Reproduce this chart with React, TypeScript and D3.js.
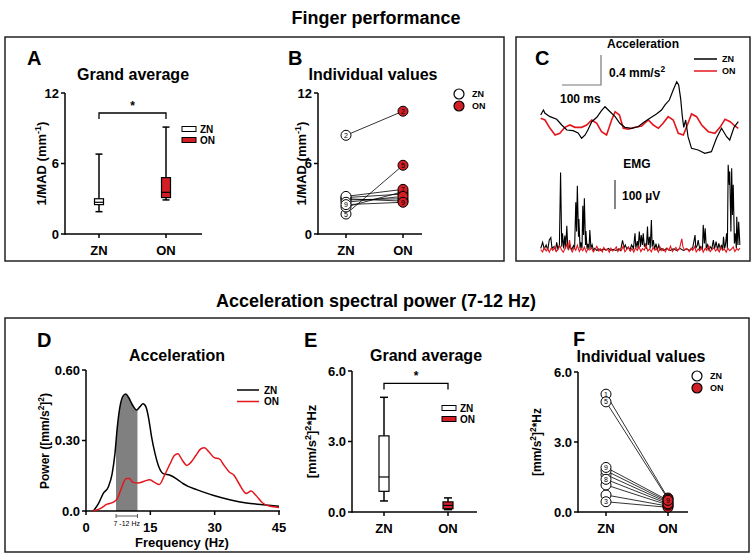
import * as d3 from "d3";

const FONT = "'Liberation Sans', Arial, sans-serif";
const RED_LINE = "#e3161d";
const RED_FILL = "#d21f26";

const groups = ["ZN", "ON"];
const subjects = ["1", "2", "3", "4", "5", "6", "7", "8", "9"];

// A: 1/MAD box stats [min, q1, median, q3, max]
const madBoxZN = [1.9, 2.5, 2.7, 3.0, 6.8];
const madBoxON = [2.9, 3.1, 3.55, 4.8, 9.1];
const madTicks = [0, 6, 12];

// B: individual 1/MAD
const madZN = [3.1, 8.4, 2.9, 3.0, 1.7, 2.3, 3.2, 2.7, 2.5];
const madON = [3.4, 10.45, 3.0, 2.8, 5.85, 3.6, 3.8, 3.2, 2.7];

// E: spectral power box stats
const powBoxZN = [0.47, 0.88, 1.49, 3.24, 4.88];
const powBoxON = [0.1, 0.14, 0.28, 0.43, 0.6];
const powTicks = [0, 3, 6];

// F: individual spectral power
const powZN = [5.05, 0.73, 0.44, 1.6, 4.72, 1.16, 1.77, 1.4, 1.91];
const powON = [0.6, 0.25, 0.2, 0.4, 0.55, 0.3, 0.45, 0.35, 0.5];

// D: spectra [Hz, power]
const specZN: [number, number][] = [
  [1.7, 0], [2.9, 0.031], [4.0, 0.074], [5.2, 0.102], [6.1, 0.159], [6.75, 0.244],
  [7.3, 0.357], [7.9, 0.442], [8.7, 0.491], [9.3, 0.498], [9.9, 0.484], [10.9, 0.449],
  [11.8, 0.43], [12.6, 0.444], [13.3, 0.456], [14.0, 0.442], [14.7, 0.385], [15.3, 0.314],
  [16.1, 0.244], [17.0, 0.187], [18.0, 0.159], [19.6, 0.152], [21.1, 0.137], [22.7, 0.116],
  [23.8, 0.105], [25.8, 0.091], [29.6, 0.067], [33.5, 0.048], [37.4, 0.034], [41.3, 0.027],
  [45, 0.02],
];
const specON: [number, number][] = [
  [1.7, 0], [3.3, 0.01], [4.8, 0.028], [6.4, 0.038], [7.3, 0.053], [8.2, 0.095],
  [9.4, 0.138], [10.1, 0.138], [10.9, 0.123], [12.1, 0.119], [13.6, 0.127], [14.8, 0.133],
  [15.9, 0.123], [17.1, 0.113], [18.3, 0.152], [19.6, 0.201], [20.6, 0.236], [21.4, 0.244],
  [22.5, 0.215], [23.5, 0.194], [24.5, 0.208], [25.6, 0.236], [26.8, 0.265], [27.6, 0.269],
  [28.7, 0.251], [29.9, 0.227], [31.1, 0.222], [32.2, 0.194], [33.4, 0.166], [34.5, 0.152],
  [35.7, 0.116], [36.9, 0.081], [37.3, 0.074], [38.5, 0.085], [39.6, 0.067], [41.2, 0.034],
  [42.7, 0.021], [45, 0.015],
];
const freqTicks = [0, 15, 30, 45];
const specTicks = [0, 0.3, 0.6];
const band = [7, 12];

// C: acceleration traces [ms, mm/s^2]
const accZN: [number, number][] = [
  [0, 0.133], [7, 0.2], [11, 0.156], [24, 0.111], [41, 0.076], [54, 0], [67, -0.067],
  [83, -0.076], [96, -0.107], [105, -0.177], [114, -0.133], [121, -0.067], [131, 0.044],
  [144, 0.103], [156, 0.191], [165, 0.244], [178, 0.177], [191, 0.111], [203, 0.023],
  [216, -0.031], [233, -0.044], [250, -0.023], [263, 0.031], [280, 0.089], [297, 0.147],
  [310, 0.2], [319, 0.267], [330, 0.333], [340, 0.467], [349, 0.577], [354, 0.533],
  [359, 0.356], [363, 0.133], [367, -0.031], [372, 0.067], [378, -0.156], [387, -0.311],
  [404, -0.333], [421, -0.377], [438, -0.356], [451, -0.177], [464, -0.044], [477, -0.156],
  [485, -0.2], [496, -0.031], [507, 0.044],
];
const accON: [number, number][] = [
  [0, 0.089], [11, 0.067], [24, -0.044], [37, -0.133], [49, -0.111], [62, -0.031], [75, 0],
  [88, -0.031], [105, -0.031], [118, 0], [131, 0.067], [144, 0.023], [156, -0.089],
  [169, -0.133], [182, 0.067], [191, 0.177], [202, 0.133], [212, -0.044], [225, -0.057],
  [242, -0.031], [259, -0.013], [276, 0.067], [289, 0], [302, -0.044], [314, 0.023],
  [327, 0.111], [340, 0.067], [353, -0.111], [366, -0.133], [378, 0.023], [387, 0.147],
  [400, 0.111], [413, 0], [430, -0.089], [447, -0.111], [460, -0.031], [473, 0.076],
  [486, 0.044], [498, -0.013], [507, -0.044],
];
// C: EMG [ms, µV]
const emgZN: [number, number][] = [
  [0, 9], [5, 30], [9, 7], [14, 21], [18, 3], [22, 38], [26, 46], [29, 9], [34, 15], [38, 3],
  [41, 30], [44, 7], [48, 21], [51, 271], [54, 15], [56, 61], [59, 9], [62, 53], [64, 9],
  [67, 87], [69, 23], [72, 7], [75, 21], [79, 3], [84, 18], [87, 7], [90, 168], [92, 67],
  [94, 225], [97, 49], [98, 110], [101, 9], [103, 30], [106, 9], [108, 156], [110, 55],
  [112, 182], [115, 21], [116, 69], [119, 7], [121, 25], [124, 7], [126, 72], [129, 9],
  [132, 21], [135, 3], [139, 9], [144, 2], [149, 7], [154, 2], [161, 7], [168, 3], [174, 9],
  [179, 2], [186, 6], [193, 2], [200, 7], [205, 2], [210, 37], [214, 11], [217, 21], [221, 7],
  [225, 14], [229, 3], [233, 21], [238, 9], [242, 61], [244, 11], [248, 34], [250, 9],
  [253, 67], [256, 15], [258, 55], [261, 21], [263, 61], [266, 15], [268, 23], [271, 7],
  [274, 84], [276, 21], [279, 49], [281, 9], [284, 107], [286, 15], [289, 38], [292, 7],
  [296, 25], [299, 3], [303, 21], [306, 3], [311, 9], [316, 2], [323, 9], [332, 2], [340, 7],
  [349, 2], [357, 9], [366, 2], [374, 7], [383, 2], [390, 11], [393, 32], [396, 55], [398, 9],
  [402, 21], [404, 38], [408, 7], [411, 15], [415, 3], [417, 90], [420, 26], [422, 78],
  [425, 9], [428, 21], [432, 3], [435, 15], [439, 7], [443, 38], [446, 7], [450, 32], [454, 3],
  [457, 26], [461, 7], [464, 21], [467, 3], [469, 49], [472, 9], [474, 21], [477, 61], [479, 9],
  [481, 297], [484, 228], [485, 274], [488, 67], [490, 285], [492, 124], [494, 228], [497, 26],
  [499, 61], [502, 9], [503, 118], [506, 21], [508, 101], [510, 49], [511, 21],
];
const emgON: [number, number][] = [
  [0, 5], [5, -3], [9, 12], [14, 0], [18, 8], [22, -4], [27, 10], [31, 2], [36, 15], [40, -2],
  [45, 6], [49, 18], [54, 3], [58, -4], [63, 10], [67, 24], [70, 5], [74, 38], [77, 8],
  [81, -3], [86, 12], [90, 2], [94, 20], [99, -2], [103, 9], [108, 1], [112, 14], [117, -4],
  [121, 7], [126, 3], [130, 11], [135, -3], [140, 6], [144, 16], [149, 0], [153, 8], [158, -3],
  [162, 12], [167, 2], [171, 7], [176, -4], [180, 10], [185, 0], [189, 5], [194, 14], [198, -2],
  [203, 8], [207, 2], [212, 18], [216, -3], [221, 6], [225, 13], [230, 0], [234, 9], [239, -4],
  [243, 11], [248, 2], [252, 16], [257, -2], [261, 8], [266, 3], [270, 20], [275, 0], [279, 7],
  [284, -3], [288, 12], [293, 2], [297, 9], [302, -4], [306, 14], [311, 1], [315, 7], [320, -3],
  [324, 10], [329, 2], [333, 17], [338, -2], [342, 6], [347, 12], [351, 0], [356, 8], [362, 42],
  [365, 14], [369, 3], [374, 9], [377, 6], [381, -2], [386, 10], [390, 2], [395, 15], [399, -3],
  [404, 7], [408, 1], [413, 12], [417, -4], [422, 9], [426, 2], [431, 18], [435, -2], [440, 6],
  [444, 11], [449, 0], [453, 8], [458, -3], [462, 13], [467, 2], [471, 7], [476, -4], [480, 10],
  [485, 1], [489, 6], [494, 14], [498, -2], [503, 8], [507, 3], [511, 10],
];

function Sup({ t }: { t: string }) {
  return <tspan baselineShift="super" fontSize="0.7em">{t}</tspan>;
}

function YAxis({ x, scale, ticks, fmt }: { x: number; scale: d3.ScaleLinear<number, number>; ticks: number[]; fmt: (v: number) => string }) {
  const [r0, r1] = scale.range();
  return (
    <g>
      <line x1={x} x2={x} y1={r0 + 0.75} y2={r1} stroke="#000" strokeWidth={1.5} />
      {ticks.map((t) => (
        <g key={t}>
          <line x1={x - 4} x2={x} y1={scale(t)} y2={scale(t)} stroke="#000" strokeWidth={1.5} />
          <text x={x - 6} y={scale(t)} dy="0.36em" textAnchor="end" fontSize={13} fontWeight="bold">{fmt(t)}</text>
        </g>
      ))}
    </g>
  );
}

interface BoxProps {
  x0: number; xEnd: number; yTop: number; yBottom: number; max: number; ticks: number[];
  fmt: (v: number) => string; pos: number[]; boxes: number[][]; bracket: number; boxW: number;
  legend: [number, number]; labelX: number; label: React.ReactNode;
}

function BoxPanel(p: BoxProps) {
  const y = d3.scaleLinear().domain([0, p.max]).range([p.yBottom, p.yTop]);
  const fills = ["#fff", RED_FILL];
  const yb = y(p.bracket);
  return (
    <g>
      <YAxis x={p.x0} scale={y} ticks={p.ticks} fmt={p.fmt} />
      <line x1={p.x0} x2={p.xEnd} y1={p.yBottom} y2={p.yBottom} stroke="#000" strokeWidth={1.5} />
      {groups.map((g, i) => (
        <g key={g}>
          <line x1={p.pos[i]} x2={p.pos[i]} y1={p.yBottom} y2={p.yBottom + 4} stroke="#000" strokeWidth={1.5} />
          <text x={p.pos[i]} y={p.yBottom + 21} textAnchor="middle" fontSize={13} fontWeight="bold">{g}</text>
        </g>
      ))}
      {p.boxes.map((b, i) => {
        const cx = p.pos[i];
        const w = p.boxW;
        return (
          <g key={i} stroke="#000" strokeWidth={1.2}>
            <line x1={cx} x2={cx} y1={y(b[4])} y2={y(b[3])} strokeWidth={1.5} />
            <line x1={cx} x2={cx} y1={y(b[1])} y2={y(b[0])} strokeWidth={1.5} />
            <line x1={cx - w / 2 + 1} x2={cx + w / 2 - 1} y1={y(b[4])} y2={y(b[4])} strokeWidth={1.5} />
            <line x1={cx - w / 2 + 1} x2={cx + w / 2 - 1} y1={y(b[0])} y2={y(b[0])} strokeWidth={1.5} />
            <rect x={cx - w / 2} y={y(b[3])} width={w} height={y(b[1]) - y(b[3])} fill={fills[i]} />
            <line x1={cx - w / 2} x2={cx + w / 2} y1={y(b[2])} y2={y(b[2])} />
          </g>
        );
      })}
      <path d={`M${p.pos[0]},${yb + 6}V${yb}H${p.pos[1]}V${yb + 6}`} fill="none" stroke="#000" strokeWidth={1.3} />
      <text x={(p.pos[0] + p.pos[1]) / 2} y={yb - 3} textAnchor="middle" fontSize={12} fontWeight="bold">*</text>
      {groups.map((g, i) => (
        <g key={g}>
          <rect x={p.legend[0]} y={p.legend[1] + i * 11 - 2.5} width={14} height={5} fill={fills[i]} stroke="#000" strokeWidth={1} />
          <text x={p.legend[0] + 18} y={p.legend[1] + i * 11} dy="0.36em" fontSize={10} fontWeight="bold">{g}</text>
        </g>
      ))}
      <text transform={`translate(${p.labelX},${(p.yTop + p.yBottom) / 2}) rotate(-90)`} textAnchor="middle" fontSize={13} fontWeight="bold">{p.label}</text>
    </g>
  );
}

interface IndProps {
  x0: number; xEnd: number; yTop: number; yBottom: number; max: number; ticks: number[];
  fmt: (v: number) => string; pos: number[]; zn: number[]; on: number[];
  legend: [number, number]; labelX: number; label: React.ReactNode; labelSize: number;
}

function IndividualPanel(p: IndProps) {
  const y = d3.scaleLinear().domain([0, p.max]).range([p.yBottom, p.yTop]);
  const r = 5;
  // a number is hidden when a circle drawn later sits on top of it
  const covered = (vals: number[], i: number) =>
    vals.some((v, j) => j > i && Math.abs(y(v) - y(vals[i])) < r + 2);
  return (
    <g>
      <YAxis x={p.x0} scale={y} ticks={p.ticks} fmt={p.fmt} />
      <line x1={p.x0} x2={p.xEnd} y1={p.yBottom} y2={p.yBottom} stroke="#000" strokeWidth={1.5} />
      {groups.map((g, i) => (
        <g key={g}>
          <line x1={p.pos[i]} x2={p.pos[i]} y1={p.yBottom} y2={p.yBottom + 4} stroke="#000" strokeWidth={1.5} />
          <text x={p.pos[i]} y={p.yBottom + 21} textAnchor="middle" fontSize={13} fontWeight="bold">{g}</text>
        </g>
      ))}
      {subjects.map((s, i) => (
        <line key={s} x1={p.pos[0]} x2={p.pos[1]} y1={y(p.zn[i])} y2={y(p.on[i])} stroke="#000" strokeWidth={0.8} />
      ))}
      {[p.zn, p.on].map((vals, gi) =>
        subjects.map((s, i) => (
          <g key={`${gi}-${s}`}>
            <circle cx={p.pos[gi]} cy={y(vals[i])} r={r} fill={gi === 0 ? "#fff" : RED_FILL} stroke="#000" strokeWidth={1} />
            {!covered(vals, i) && (
              <text x={p.pos[gi]} y={y(vals[i])} dy="0.36em" textAnchor="middle" fontSize={7}>{s}</text>
            )}
          </g>
        ))
      )}
      {groups.map((g, i) => (
        <g key={g}>
          <circle cx={p.legend[0]} cy={p.legend[1] + i * 12} r={5} fill={i === 0 ? "#fff" : RED_FILL} stroke="#000" strokeWidth={1.2} />
          <text x={p.legend[0] + 13} y={p.legend[1] + i * 12} dy="0.36em" fontSize={9} fontWeight="bold">{g}</text>
        </g>
      ))}
      <text transform={`translate(${p.labelX},${(p.yTop + p.yBottom) / 2}) rotate(-90)`} textAnchor="middle" fontSize={p.labelSize} fontWeight="bold">{p.label}</text>
    </g>
  );
}

function SpectrumPanel() {
  const x = d3.scaleLinear().domain([0, 45]).range([86, 279]);
  const y = d3.scaleLinear().domain([0, 0.6]).range([511, 370]);
  const line = d3.line<[number, number]>().x((d) => x(d[0])).y((d) => y(d[1])).curve(d3.curveMonotoneX);
  const area = d3.area<[number, number]>().x((d) => x(d[0])).y0(y(0)).y1((d) => y(d[1])).curve(d3.curveMonotoneX);
  return (
    <g>
      <defs>
        <clipPath id="band">
          <rect x={x(band[0])} y={y(0.6)} width={x(band[1]) - x(band[0])} height={y(0) - y(0.6)} />
        </clipPath>
      </defs>
      <path d={area(specZN) ?? ""} fill="#808080" clipPath="url(#band)" />
      <YAxis x={86} scale={y} ticks={specTicks} fmt={(v) => (v === 0 ? "0.0" : v.toFixed(2))} />
      <line x1={86} x2={280} y1={511} y2={511} stroke="#000" strokeWidth={1.5} />
      {freqTicks.map((t) => (
        <g key={t}>
          <line x1={x(t)} x2={x(t)} y1={511} y2={515} stroke="#000" strokeWidth={1.5} />
          <text x={x(t)} y={532} textAnchor="middle" fontSize={13} fontWeight="bold">{t === 0 ? "0" : t}</text>
        </g>
      ))}
      <path d={line(specZN) ?? ""} fill="none" stroke="#000" strokeWidth={1.5} />
      <path d={line(specON) ?? ""} fill="none" stroke={RED_LINE} strokeWidth={1.5} />
      <path d={`M${x(band[0])},${514}V${518}M${x(band[0])},${516}H${x(band[1])}M${x(band[1])},${514}V${518}`} fill="none" stroke="#333" strokeWidth={0.8} />
      <text x={(x(band[0]) + x(band[1])) / 2} y={526} textAnchor="middle" fontSize={7} fontWeight="normal">{`${band[0]} -${band[1]} Hz`}</text>
      <text x={182} y={547} textAnchor="middle" fontSize={13} fontWeight="bold">Frequency (Hz)</text>
      <text transform="translate(49,441) rotate(-90)" textAnchor="middle" fontSize={12} fontWeight="bold">
        Power ([mm/s<Sup t="2" />]<Sup t="2" />)
      </text>
      {groups.map((g, i) => (
        <g key={g}>
          <line x1={237} x2={259} y1={390 + i * 11.5} y2={390 + i * 11.5} stroke={i === 0 ? "#000" : RED_LINE} strokeWidth={1.5} />
          <text x={264} y={390 + i * 11.5} dy="0.36em" fontSize={10} fontWeight="bold">{g}</text>
        </g>
      ))}
    </g>
  );
}

function TracePanel() {
  const t = d3.scaleLinear().domain([0, 507]).range([540.7, 738.3]);
  const acc = d3.scaleLinear().domain([0, 0.4]).range([125, 95]);
  const emg = d3.scaleLinear().domain([0, 100]).range([251, 222]);
  const accLine = d3.line<[number, number]>().x((d) => t(d[0])).y((d) => acc(d[1]));
  const emgLine = d3.line<[number, number]>().x((d) => t(d[0])).y((d) => emg(d[1]));
  const emgBar = emg(0) - emg(100);
  return (
    <g>
      <text x={643} y={48} textAnchor="middle" fontSize={12} fontWeight="bold">Acceleration</text>
      <path d={`M562,85H601V${85 - (acc(0) - acc(0.4))}`} fill="none" stroke="#777" strokeWidth={1.2} />
      <text x={609} y={77} fontSize={12} fontWeight="bold">0.4 mm/s<Sup t="2" /></text>
      <text x={560} y={103} fontSize={12} fontWeight="bold">100 ms</text>
      {groups.map((g, i) => (
        <g key={g}>
          <line x1={694} x2={717} y1={59 + i * 12} y2={59 + i * 12} stroke={i === 0 ? "#000" : RED_LINE} strokeWidth={1.5} />
          <text x={722} y={59 + i * 12} dy="0.36em" fontSize={9} fontWeight="bold">{g}</text>
        </g>
      ))}
      <path d={accLine(accON) ?? ""} fill="none" stroke={RED_LINE} strokeWidth={1.6} />
      <path d={accLine(accZN) ?? ""} fill="none" stroke="#000" strokeWidth={1.2} />
      <text x={637} y={168} textAnchor="middle" fontSize={12} fontWeight="bold">EMG</text>
      <line x1={615} x2={615} y1={180} y2={180 + emgBar} stroke="#333" strokeWidth={1.2} />
      <text x={622} y={200} fontSize={12} fontWeight="bold">100 µV</text>
      <path d={emgLine(emgZN) ?? ""} fill="none" stroke="#000" strokeWidth={1.1} />
      <path d={emgLine(emgON) ?? ""} fill="none" stroke={RED_LINE} strokeWidth={1.1} />
    </g>
  );
}

export default function App() {
  const f1 = (v: number) => String(v);
  const f2 = (v: number) => v.toFixed(1);
  return (
    <svg width={753} height={557} style={{ position: "absolute", left: 0, top: 0, background: "#fff" }} fontFamily={FONT}>
      <rect width={753} height={557} fill="#fff" />
      <text x={376} y={24} textAnchor="middle" fontSize={18} fontWeight="bold">Finger performance</text>
      <rect x={5} y={37} width={499} height={224} fill="none" stroke="#222" strokeWidth={1.5} />
      <rect x={516} y={37} width={234} height={224} fill="none" stroke="#222" strokeWidth={1.5} />
      <text x={376} y={307} textAnchor="middle" fontSize={18} fontWeight="bold">Acceleration spectral power (7-12 Hz)</text>
      <rect x={5} y={318} width={744} height={234} fill="none" stroke="#222" strokeWidth={1.5} />

      <text x={27} y={65} fontSize={20} fontWeight="bold">A</text>
      <text x={133} y={80} textAnchor="middle" fontSize={16} fontWeight="bold">Grand average</text>
      <BoxPanel x0={65} xEnd={202} yTop={93} yBottom={234} max={12} ticks={madTicks} fmt={f1}
        pos={[99, 166]} boxes={[madBoxZN, madBoxON]} bracket={10.3} boxW={9} legend={[182, 129]}
        labelX={46} label={<>1/MAD (mm<Sup t="-1" />)</>} />

      <text x={288} y={65} fontSize={20} fontWeight="bold">B</text>
      <text x={373} y={80} textAnchor="middle" fontSize={16} fontWeight="bold">Individual values</text>
      <IndividualPanel x0={318} xEnd={422} yTop={93} yBottom={234} max={12} ticks={madTicks} fmt={f1}
        pos={[346, 403]} zn={madZN} on={madON} legend={[459, 94]} labelX={306} labelSize={13}
        label={<>1/MAD (mm<Sup t="-1" />)</>} />

      <text x={535} y={65} fontSize={20} fontWeight="bold">C</text>
      <TracePanel />

      <text x={37} y={347} fontSize={20} fontWeight="bold">D</text>
      <text x={177} y={361} textAnchor="middle" fontSize={16} fontWeight="bold">Acceleration</text>
      <SpectrumPanel />

      <text x={304} y={347} fontSize={20} fontWeight="bold">E</text>
      <text x={426} y={361} textAnchor="middle" fontSize={16} fontWeight="bold">Grand average</text>
      <BoxPanel x0={352} xEnd={477} yTop={371} yBottom={512} max={6} ticks={powTicks} fmt={f2}
        pos={[384, 448]} boxes={[powBoxZN, powBoxON]} bracket={5.47} boxW={10} legend={[442, 408]}
        labelX={316} label={<>[mm/s<Sup t="2" />]<Sup t="2" />*Hz</>} />

      <text x={573} y={346} fontSize={20} fontWeight="bold">F</text>
      <text x={641} y={362} textAnchor="middle" fontSize={16} fontWeight="bold">Individual values</text>
      <IndividualPanel x0={578} xEnd={688} yTop={372} yBottom={512} max={6} ticks={powTicks} fmt={f2}
        pos={[606, 668]} zn={powZN} on={powON} legend={[697, 376]} labelX={541} labelSize={12}
        label={<>[mm/s<Sup t="2" />]<Sup t="2" />*Hz</>} />
    </svg>
  );
}
